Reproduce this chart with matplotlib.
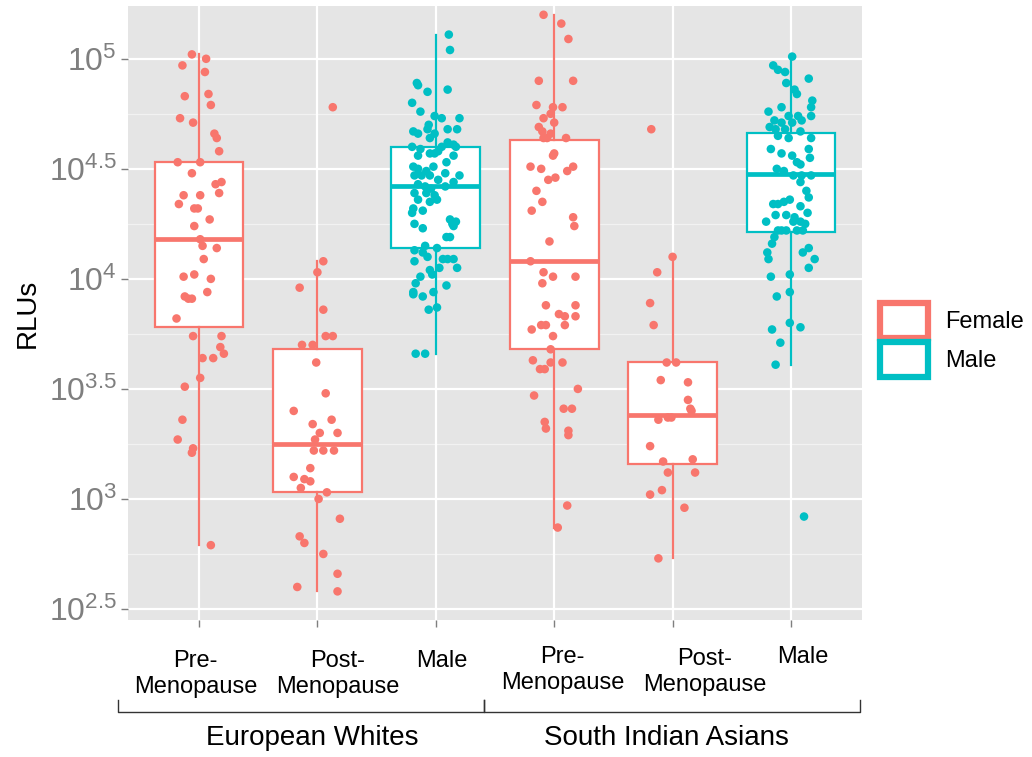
import matplotlib
matplotlib.use("Agg")
import matplotlib.pyplot as plt
import matplotlib.transforms as mtransforms
from matplotlib.patches import Patch
import numpy as np

plt.rcParams['font.family'] = ['Liberation Sans', 'DejaVu Sans']
plt.rcParams['mathtext.default'] = 'regular'

# log10(RLU) values, with the jitter offset of each point
ew_pre = [5.02, 5.00, 4.97, 4.94, 4.83, 4.84, 4.79, 4.73, 4.71, 4.66, 4.64, 4.58, 4.53, 4.53,
          4.48, 4.43, 4.44, 4.39, 4.38, 4.38, 4.34, 4.32, 4.32, 4.27, 4.24, 4.18, 4.15, 4.14,
          4.09, 4.01, 4.02, 4.00, 3.92, 3.91, 3.91, 3.94, 3.82, 3.74, 3.74, 3.69, 3.66, 3.64,
          3.64, 3.55, 3.51, 3.36, 3.27, 3.23, 3.21, 2.79]
ew_pre_dx = [-0.06, 0.06, -0.14, 0.05, -0.12, 0.08, 0.10, -0.16, -0.05, 0.13, 0.15, 0.17, -0.18, 0.01,
             -0.06, 0.14, 0.19, 0.17, -0.13, 0.01, -0.17, -0.04, -0.01, 0.09, -0.04, 0.01, 0.03, 0.15,
             0.04, -0.13, -0.04, 0.10, -0.12, -0.09, -0.06, 0.07, -0.19, -0.05, 0.19, 0.18, 0.21, 0.03,
             0.12, 0.01, -0.12, -0.14, -0.18, -0.05, -0.06, 0.10]

ew_post = [4.78, 4.08, 4.03, 3.96, 3.86, 3.74, 3.74, 3.70, 3.70, 3.62, 3.48, 3.40, 3.34, 3.36,
           3.30, 3.30, 3.27, 3.22, 3.22, 3.22, 3.14, 3.10, 3.09, 3.08, 3.05, 3.03, 3.00, 2.91,
           2.83, 2.80, 2.75, 2.66, 2.60, 2.58]
ew_post_dx = [0.13, 0.05, 0.00, -0.15, 0.05, 0.07, 0.13, -0.13, -0.04, -0.01, 0.07, -0.20, -0.04, 0.12,
              0.02, 0.17, -0.02, -0.03, 0.05, 0.14, -0.06, -0.20, -0.11, -0.06, -0.14, 0.08, 0.01, 0.19,
              -0.15, -0.11, 0.05, 0.17, -0.17, 0.17]

ew_male = [5.11, 5.04, 4.89, 4.88, 4.85, 4.86, 4.80, 4.76, 4.74, 4.73, 4.73, 4.70, 4.67, 4.66,
           4.68, 4.66, 4.68, 4.68, 4.64, 4.62, 4.61, 4.60, 4.60, 4.59, 4.57, 4.58, 4.60, 4.57,
           4.56, 4.56, 4.53, 4.51, 4.50, 4.51, 4.49, 4.48, 4.47, 4.47, 4.47, 4.47, 4.45, 4.44,
           4.43, 4.42, 4.41, 4.42, 4.39, 4.39, 4.38, 4.36, 4.35, 4.36, 4.32, 4.31, 4.30, 4.25,
           4.23, 4.27, 4.25, 4.26, 4.24, 4.19, 4.19, 4.13, 4.15, 4.14, 4.12, 4.10, 4.08, 4.09,
           4.09, 4.09, 4.04, 4.05, 4.05, 4.02, 4.01, 3.98, 3.97, 3.94, 3.92, 3.94, 3.93, 3.86,
           3.87, 3.66, 3.66]
ew_male_dx = [0.11, 0.12, -0.16, -0.15, -0.07, 0.10, -0.20, -0.13, -0.01, 0.05, 0.20, -0.06, -0.19, -0.15,
              -0.07, -0.01, 0.10, 0.18, -0.05, 0.10, 0.15, 0.17, -0.20, -0.13, -0.05, 0.02, 0.05, -0.01,
              -0.15, 0.15, 0.09, -0.19, -0.15, -0.02, -0.08, 0.08, 0.20, -0.18, -0.12, -0.05, 0.02, 0.15,
              -0.15, -0.09, -0.04, 0.08, -0.18, -0.08, -0.01, -0.15, -0.05, 0.01, -0.19, -0.11, -0.20, -0.18,
              -0.11, 0.12, 0.14, 0.17, 0.15, 0.09, 0.12, -0.18, -0.09, 0.01, -0.11, -0.07, -0.18, 0.06,
              0.10, 0.15, -0.05, 0.03, 0.18, -0.03, -0.13, -0.17, 0.09, -0.19, -0.11, -0.02, -0.19, -0.06,
              0.01, -0.17, -0.09]

sia_pre = [5.20, 5.16, 5.09, 4.90, 4.90, 4.79, 4.78, 4.78, 4.73, 4.75, 4.71, 4.69, 4.67, 4.66,
           4.64, 4.64, 4.64, 4.57, 4.56, 4.51, 4.50, 4.49, 4.51, 4.45, 4.46, 4.40, 4.35, 4.31,
           4.28, 4.24, 4.17, 4.08, 4.03, 4.01, 3.98, 4.01, 3.88, 3.88, 3.84, 3.83, 3.83, 3.79,
           3.79, 3.79, 3.77, 3.74, 3.68, 3.63, 3.62, 3.62, 3.59, 3.59, 3.47, 3.50, 3.41, 3.41,
           3.35, 3.32, 3.31, 3.29, 2.97, 2.87]
sia_pre_dx = [-0.09, 0.06, 0.12, -0.13, 0.16, -0.15, -0.01, 0.07, -0.09, -0.03, 0.00, -0.13, -0.10, -0.03,
              -0.09, -0.06, 0.10, 0.00, -0.01, -0.20, -0.11, 0.11, 0.16, -0.05, 0.01, -0.15, -0.10, -0.19,
              0.16, 0.17, -0.04, -0.20, -0.09, -0.01, -0.10, 0.18, -0.07, 0.18, 0.04, 0.09, 0.18, 0.09,
              -0.11, -0.07, -0.19, -0.01, -0.03, -0.18, -0.03, 0.07, -0.12, -0.08, -0.17, 0.20, 0.08, 0.15,
              -0.08, -0.07, 0.12, 0.12, 0.11, 0.03]

sia_post = [4.68, 4.10, 4.03, 3.89, 3.79, 3.62, 3.62, 3.54, 3.53, 3.45, 3.41, 3.40, 3.36, 3.37,
            3.37, 3.24, 3.17, 3.18, 3.12, 3.12, 3.04, 3.02, 2.96, 2.73]
sia_post_dx = [-0.18, 0.00, -0.13, -0.19, -0.16, -0.05, 0.03, -0.10, 0.13, 0.13, 0.15, 0.16, -0.12, -0.04,
               -0.01, -0.19, -0.08, 0.17, -0.04, 0.19, -0.09, -0.19, 0.10, -0.12]

sia_male = [5.01, 4.97, 4.95, 4.94, 4.91, 4.89, 4.86, 4.84, 4.81, 4.78, 4.78, 4.76, 4.74, 4.74,
            4.74, 4.72, 4.72, 4.71, 4.71, 4.69, 4.68, 4.68, 4.67, 4.65, 4.64, 4.64, 4.59, 4.59,
            4.57, 4.56, 4.53, 4.55, 4.52, 4.50, 4.49, 4.47, 4.47, 4.47, 4.44, 4.40, 4.37, 4.34,
            4.34, 4.35, 4.36, 4.33, 4.29, 4.29, 4.28, 4.30, 4.26, 4.26, 4.26, 4.25, 4.22, 4.22,
            4.22, 4.19, 4.22, 4.22, 4.16, 4.12, 4.09, 4.14, 4.12, 4.09, 4.05, 4.01, 4.02, 3.94,
            3.92, 3.77, 3.80, 3.78, 3.71, 3.61, 2.92]
sia_male_dx = [0.01, -0.15, -0.11, -0.05, 0.15, -0.04, 0.03, 0.05, 0.18, -0.08, 0.17, -0.19, -0.02, 0.06,
               0.17, 0.09, -0.14, -0.08, 0.01, -0.18, -0.13, -0.05, 0.08, -0.11, -0.02, 0.17, 0.15, -0.17,
               -0.08, 0.01, 0.05, 0.16, 0.08, -0.12, -0.06, 0.02, 0.09, 0.17, 0.08, 0.13, 0.15, -0.15,
               -0.11, -0.06, -0.01, 0.08, -0.13, -0.04, 0.03, 0.14, -0.21, 0.02, 0.08, 0.12, 0.05, -0.08,
               0.10, -0.14, -0.11, -0.04, -0.16, -0.20, -0.19, 0.15, 0.10, 0.20, 0.15, -0.17, -0.01, -0.01,
               -0.12, -0.16, -0.01, 0.08, -0.09, -0.13, 0.11]

groups = [ew_pre, ew_post, ew_male, sia_pre, sia_post, sia_male]
jitters = [ew_pre_dx, ew_post_dx, ew_male_dx, sia_pre_dx, sia_post_dx, sia_male_dx]
sexes = ["Female", "Female", "Male", "Female", "Female", "Male"]

# box statistics (log10 RLU)
box_q1 = [3.78, 3.03, 4.14, 3.68, 3.16, 4.215]
box_med = [4.18, 3.25, 4.42, 4.08, 3.38, 4.476]
box_q3 = [4.53, 3.68, 4.60, 4.63, 3.62, 4.665]
box_lo = [2.79, 2.58, 3.66, 2.87, 2.73, 3.61]
box_hi = [5.02, 4.08, 5.11, 5.20, 4.10, 5.01]

tick_labels = ["Pre-\nMenopause", "Post-\nMenopause", "Male",
               "Pre-\nMenopause", "Post-\nMenopause", "Male"]
ethnicities = ["European Whites", "South Indian Asians"]
y_breaks = [2.5, 3, 3.5, 4, 4.5, 5]
y_minor = [2.75, 3.25, 3.75, 4.25, 4.75]

colors = {"Female": "#F8766D", "Male": "#00BFC4"}

fig = plt.figure(figsize=(10.32, 7.57), dpi=100)
ax = fig.add_axes([0.124, 0.181, 0.7113, 0.8111])
ax.set_facecolor("#E5E5E5")

for y in y_minor:
    ax.axhline(y, color="#F2F2F2", lw=0.9, zorder=0)
for y in y_breaks:
    ax.axhline(y, color="white", lw=1.6, zorder=0.5)
for i in range(len(groups)):
    ax.axvline(i, color="white", lw=1.6, zorder=0.5)

for i, vals in enumerate(groups):
    c = colors[sexes[i]]
    stats = [{"med": box_med[i], "q1": box_q1[i], "q3": box_q3[i],
              "whislo": box_lo[i], "whishi": box_hi[i], "fliers": []}]
    ax.bxp(stats, positions=[i], widths=0.75, showcaps=False, showfliers=False,
           patch_artist=True, manage_ticks=False,
           boxprops=dict(facecolor="white", edgecolor=c, linewidth=1.6),
           whiskerprops=dict(color=c, linewidth=1.6),
           medianprops=dict(color=c, linewidth=3.4), zorder=2)
    xs = np.array(jitters[i]) + i
    ax.scatter(xs, vals, s=38, color=c, edgecolors="none", zorder=3)

ax.set_xlim(-0.6, 5.6)
ax.set_ylim(2.45, 5.24)
for s in ax.spines.values():
    s.set_visible(False)

ax.set_yticks(y_breaks)
ax.set_yticklabels(["$10^{%g}$" % b for b in y_breaks])
ax.set_xticks(range(len(groups)))
ax.set_xticklabels([""] * len(groups))
ax.tick_params(axis="both", color="#7F7F7F", length=5, width=1)
ax.tick_params(axis="y", labelcolor="#7F7F7F", labelsize=23, pad=3)
ax.set_ylabel("RLUs", fontsize=20, labelpad=6)

# category labels placed by hand below the panel, like the original
trans = mtransforms.blended_transform_factory(ax.transData, fig.transFigure)
label_x = [-0.03, 1.17, 2.05, 3.07, 4.27, 5.10]
label_y = [0.142, 0.142, 0.142, 0.147, 0.144, 0.147]
for lab, lx, ly in zip(tick_labels, label_x, label_y):
    ax.text(lx, ly, lab, transform=trans, ha="center", va="top", fontsize=17,
            linespacing=1.25, multialignment="center")

bracket_x = [(-0.68, 2.41), (2.41, 5.58)]
title_x = [0.96, 3.95]
for (x0, x1), tx, name in zip(bracket_x, title_x, ethnicities):
    ax.plot([x0, x0, x1, x1], [0.075, 0.059, 0.059, 0.075], color="#333333", lw=1,
            transform=trans, clip_on=False)
    ax.text(tx, 0.025, name, transform=trans, ha="center", va="center", fontsize=20)

handles = [Patch(facecolor="white", edgecolor=colors[k], linewidth=4.5) for k in ["Female", "Male"]]
ax.legend(handles, ["Female", "Male"], loc="center left", bbox_to_anchor=(1.025, 0.456),
          frameon=False, fontsize=17, handlelength=2.0, handleheight=1.9,
          handletextpad=0.75, labelspacing=0.15, borderpad=0, borderaxespad=0)

fig.savefig("out.png", dpi=100)
